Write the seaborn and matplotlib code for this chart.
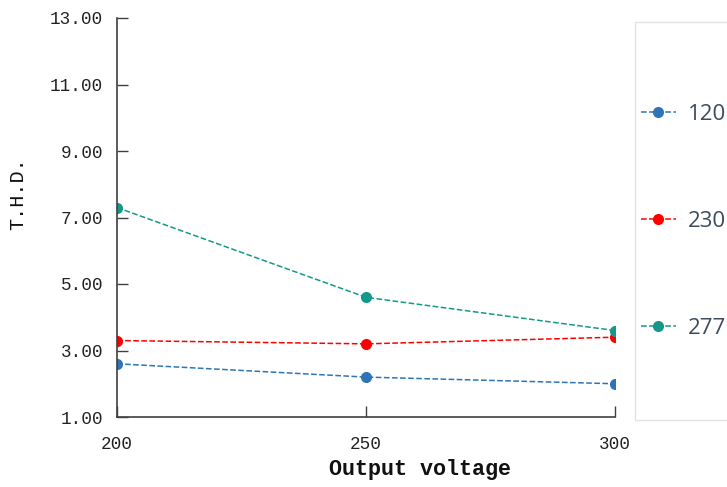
import pandas as pd
import numpy as np
import matplotlib.pyplot as plt
import seaborn as sns
from matplotlib.patches import Rectangle

sns.set_theme(style="white")
plt.rcParams["font.family"] = ["Liberation Mono", "DejaVu Sans"]

# data
output_voltage = [200, 250, 300]
series_names = ["120", "230", "277"]
thd_120 = [2.6, 2.2, 2.0]
thd_230 = [3.3, 3.2, 3.4]
thd_277 = [7.3, 4.6, 3.6]
y_ticks = [1, 3, 5, 7, 9, 11, 13]

BLUE = "#2e75b6"
RED = "#ff0000"
TEAL = "#13998a"
AXIS = "#404040"

df = pd.DataFrame({
    "voltage": output_voltage * 3,
    "thd": thd_120 + thd_230 + thd_277,
    "series": [s for s in series_names for _ in output_voltage],
})

fig = plt.figure(figsize=(7.27, 4.87), dpi=100)
ax = fig.add_axes([117 / 727, 1 - 417 / 487, (615 - 117) / 727, (417 - 18) / 487])

sns.lineplot(data=df, x="voltage", y="thd", hue="series", hue_order=series_names,
             palette=[BLUE, RED, TEAL], marker="o", markersize=8, markeredgewidth=0,
             linestyle="--", linewidth=1.1, ax=ax, legend=False)

ax.set_xlim(200, 300)
ax.set_ylim(1, 13)
ax.set_xticks(output_voltage)
ax.set_yticks(y_ticks)
ax.set_yticklabels([f"{v:.2f}" for v in y_ticks])
for side in ["top", "right"]:
    ax.spines[side].set_visible(False)
for side in ["left", "bottom"]:
    ax.spines[side].set_color(AXIS)
    ax.spines[side].set_linewidth(1.2)
ax.tick_params(axis="both", left=True, bottom=True, direction="in", length=8, width=1.0,
               color=AXIS, labelsize=12.7, labelcolor="#222222", pad=10)
ax.tick_params(axis="x", pad=14)
ax.set_xlabel("Output voltage", fontsize=15.7, fontweight="bold", color="#111111")
ax.set_ylabel("T.H.D.", fontsize=14.5, color="#111111")
ax.xaxis.set_label_coords(0.608, -0.105)
ax.yaxis.set_label_coords(-0.181, 0.561)

# legend panel on the right
fig.patches.append(Rectangle((635 / 727, 1 - 420 / 487), 0.2, (420 - 22) / 487,
                             transform=fig.transFigure, facecolor="white",
                             edgecolor="#e3e3e3", linewidth=1.0))
handles = [plt.Line2D([], [], color=c, linestyle="--", linewidth=1.1, marker="o",
                      markersize=8, markeredgewidth=0) for c in [BLUE, RED, TEAL]]
leg = fig.legend(handles, series_names, loc="upper left",
                 bbox_to_anchor=(632 / 727, 1 - 95 / 487), frameon=False,
                 prop={"family": ["Open Sans", "DejaVu Sans"], "size": 16},
                 labelcolor="#3d4b5c", handlelength=1.58, handletextpad=0.54,
                 labelspacing=3.87, borderaxespad=0)

fig.savefig("out.png", dpi=100)
